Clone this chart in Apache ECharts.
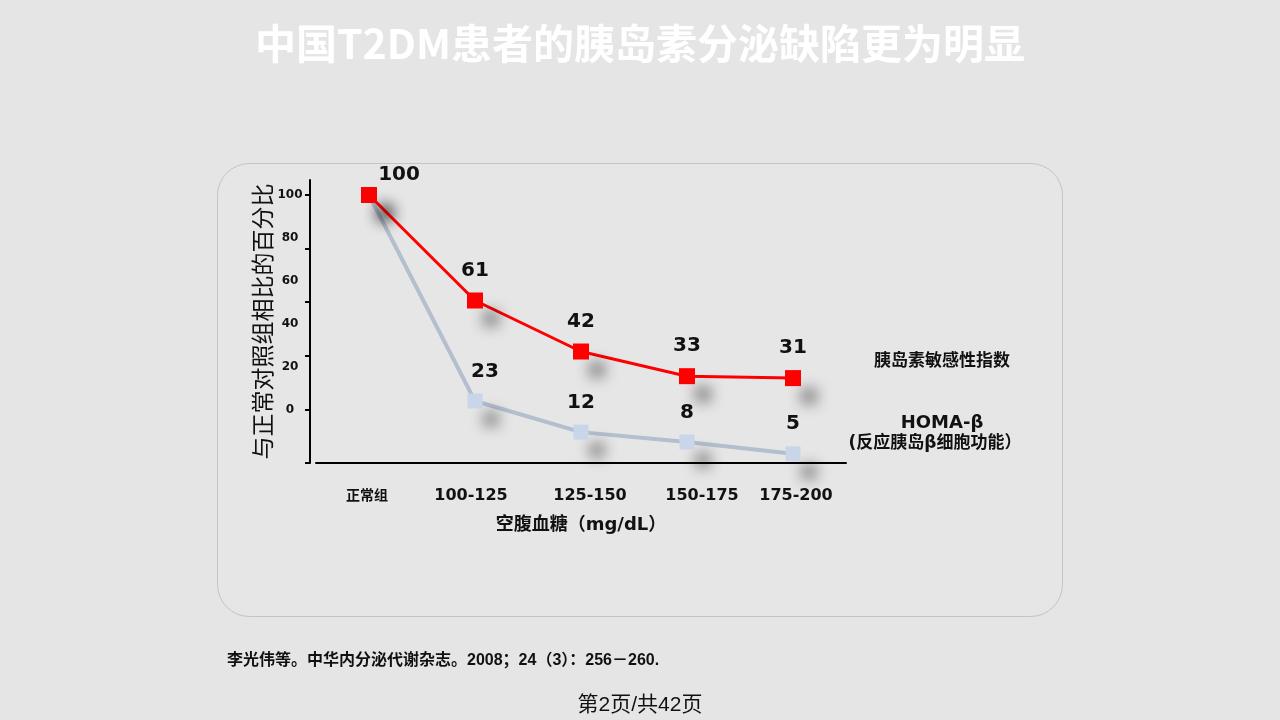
<!DOCTYPE html>
<html>
<head>
<meta charset="utf-8">
<title>中国T2DM患者的胰岛素分泌缺陷更为明显</title>
<script src="https://cdn.jsdelivr.net/npm/echarts@6/dist/echarts.min.js"></script>
<style>
  html, body { margin: 0; padding: 0; background: #e5e5e5; }
  #chart { width: 1280px; height: 720px; }
</style>
</head>
<body>
<div id="chart"></div>
<script>
// 横轴分组（空腹血糖）
var categories = ["正常组", "100-125", "125-150", "150-175", "175-200"];
// 点在纵轴上的位置
var sensitivityPos = [100, 50.8, 27, 15.5, 14.6];
var homaPos = [100, 3.9, -10.6, -15.2, -20.7];
// 点上方标注的数字
var sensitivityLabels = [100, 61, 42, 33, 31];
var homaLabels = [null, 23, 12, 8, 5];
// 纵轴刻度线 / 刻度文字
var tickValues = [-25, 0, 25, 50, 75, 100];
var tickLabels = [0, 20, 40, 60, 80, 100];

// 横轴文字的微调（像素）
var catShift = [-2, -4, 9, 15, 3];

var chart = echarts.init(document.getElementById("chart"));

var shadow = {
  shadowColor: "rgba(0,0,0,0.42)",
  shadowBlur: 14,
  shadowOffsetX: 16,
  shadowOffsetY: 18
};

function buildData(pos, labels, extra) {
  return pos.map(function (v, i) {
    var item = { value: v, labelText: labels[i] };
    if (extra[i]) item.label = extra[i];
    return item;
  });
}

var labelStyle = {
  show: true,
  position: "top",
  distance: 12,
  fontFamily: "DejaVu Sans",
  fontWeight: "bold",
  fontSize: 20,
  color: "#111",
  formatter: function (p) {
    return p.data.labelText == null ? "" : String(p.data.labelText);
  }
};

var option = {
  backgroundColor: "#e5e5e5",
  animation: false,
  title: {
    text: "中国T2DM患者的胰岛素分泌缺陷更为明显",
    left: "center",
    top: 18,
    textStyle: {
      color: "#ffffff",
      fontFamily: "Noto Sans CJK SC",
      fontWeight: "bold",
      fontSize: 41
    }
  },
  grid: { left: 316, right: 434, top: 180, bottom: 257 },
  xAxis: {
    type: "category",
    data: categories,
    boundaryGap: true,
    axisLine: { onZero: false, lineStyle: { color: "#000", width: 2 } },
    axisTick: { show: false },
    axisLabel: {
      interval: 0,
      margin: 25,
      formatter: function (val, idx) {
        var key = idx === 0 ? "cn" + idx : "num" + idx;
        return "{" + key + "|" + val + "}";
      },
      rich: (function () {
        var r = {};
        categories.forEach(function (c, i) {
          var s = catShift[i];
          var pad = s >= 0 ? [0, 0, 0, 2 * s] : [0, -2 * s, 0, 0];
          r["cn" + i] = { fontFamily: "Noto Sans CJK SC", fontWeight: "bold", fontSize: 14, color: "#111", padding: pad };
          r["num" + i] = { fontFamily: "DejaVu Sans", fontWeight: "bold", fontSize: 16, color: "#111", padding: pad };
        });
        return r;
      })()
    },
    name: "空腹血糖（mg/dL）",
    nameLocation: "middle",
    nameGap: 53,
    nameTextStyle: {
      fontFamily: "DejaVu Sans, Noto Sans CJK SC",
      fontWeight: "bold",
      fontSize: 18,
      color: "#111"
    }
  },
  yAxis: {
    type: "value",
    min: -25,
    max: 107,
    offset: 6,
    splitLine: { show: false },
    axisLine: { show: true, lineStyle: { color: "#000", width: 2 } },
    axisTick: {
      show: true,
      inside: false,
      length: 5,
      customValues: tickValues,
      lineStyle: { color: "#000", width: 2 }
    },
    axisLabel: {
      customValues: tickLabels,
      margin: 20,
      align: "center",
      padding: [0, 0, 5, 0],
      fontFamily: "DejaVu Sans",
      fontWeight: "bold",
      fontSize: 12,
      color: "#111"
    },
    name: "与正常对照组相比的百分比",
    nameLocation: "middle",
    nameRotate: 90,
    nameGap: 36,
    nameTextStyle: {
      fontFamily: "Noto Sans CJK SC",
      fontSize: 23,
      color: "#111"
    }
  },
  series: [
    {
      name: "HOMA-β",
      type: "line",
      z: 2,
      symbol: "rect",
      symbolSize: 15,
      data: buildData(homaPos, homaLabels, { 1: { offset: [10, 0] } }),
      lineStyle: { color: "#b3becf", width: 4 },
      itemStyle: Object.assign({ color: "#c9d6ea" }, shadow),
      label: labelStyle
    },
    {
      name: "胰岛素敏感性指数",
      type: "line",
      z: 3,
      symbol: "rect",
      symbolSize: 16,
      data: buildData(sensitivityPos, sensitivityLabels, { 0: { offset: [30, 10] } }),
      lineStyle: { color: "#ff0000", width: 3 },
      itemStyle: Object.assign({ color: "#ff0000" }, shadow),
      label: labelStyle
    }
  ],
  graphic: [
    {
      type: "rect",
      z: -1,
      shape: { x: 217.5, y: 163.5, width: 845, height: 453, r: 32 },
      style: { fill: "#e6e6e6", stroke: "#c4c4c4", lineWidth: 1 }
    },
    {
      type: "text",
      x: 942, y: 360,
      style: {
        text: "胰岛素敏感性指数",
        align: "center", verticalAlign: "middle",
        font: "bold 17px 'Noto Sans CJK SC'",
        fill: "#111"
      }
    },
    {
      type: "text",
      x: 942, y: 423,
      style: {
        text: "HOMA-β",
        align: "center", verticalAlign: "middle",
        font: "bold 18px 'DejaVu Sans', 'Noto Sans CJK SC'",
        fill: "#111"
      }
    },
    {
      type: "text",
      x: 935, y: 444,
      style: {
        text: "(反应胰岛β细胞功能）",
        align: "center", verticalAlign: "middle",
        font: "bold 17px 'DejaVu Sans', 'Noto Sans CJK SC'",
        fill: "#111"
      }
    },
    {
      type: "text",
      x: 227, y: 661,
      style: {
        text: "李光伟等。中华内分泌代谢杂志。2008；24（3）：256－260.",
        align: "left", verticalAlign: "middle",
        font: "bold 16px 'Liberation Sans', 'Noto Sans CJK SC'",
        fill: "#111"
      }
    },
    {
      type: "text",
      x: 640, y: 705,
      style: {
        text: "第2页/共42页",
        align: "center", verticalAlign: "middle",
        font: "21px 'Liberation Sans', 'Noto Sans CJK SC'",
        fill: "#111"
      }
    }
  ]
};

chart.setOption(option);
</script>
</body>
</html>
